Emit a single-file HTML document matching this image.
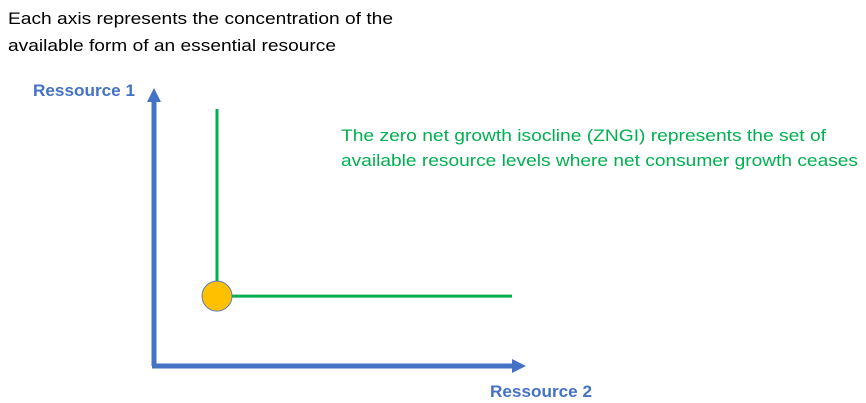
<!DOCTYPE html>
<html><head><meta charset="utf-8"><style>
body{margin:0;width:866px;height:403px;background:#fff;overflow:hidden;font-family:"Liberation Sans",sans-serif}
svg{position:absolute;left:0;top:0}
</style></head><body>
<svg width="866" height="403">
<text x="8" y="24" font-size="17" textLength="385" lengthAdjust="spacingAndGlyphs" fill="#000">Each axis represents the concentration of the</text>
<text x="8" y="51" font-size="17" textLength="328" lengthAdjust="spacingAndGlyphs" fill="#000">available form of an essential resource</text>
<text x="33" y="96" font-size="16.5" font-weight="bold" textLength="102" lengthAdjust="spacingAndGlyphs" fill="#4472C4">Ressource 1</text>
<text x="490" y="397" font-size="16.5" font-weight="bold" textLength="102" lengthAdjust="spacingAndGlyphs" fill="#4472C4">Ressource 2</text>
<text x="341" y="141" font-size="17" textLength="485" lengthAdjust="spacingAndGlyphs" fill="#00B050">The zero net growth isocline (ZNGI) represents the set of</text>
<text x="341" y="166" font-size="17" textLength="517" lengthAdjust="spacingAndGlyphs" fill="#00B050">available resource levels where net consumer growth ceases</text>
<g id="plot"></g>
</svg>
<script>
const rStar1=[0.259];   // R1* (fraction of axis height)
const rStar2=[0.21];    // R2* (fraction of axis width)
const X0=154,Y0=366,W=300,H=270;
const xs=v=>X0+v*W, ys=v=>Y0-v*H;
const NS='http://www.w3.org/2000/svg',g=document.getElementById('plot');
function mk(t,a){const e=document.createElementNS(NS,t);for(const k in a)e.setAttribute(k,a[k]);g.appendChild(e);return e;}
let e;
e=mk('line',{x1:X0,y1:Y0,x2:X0,y2:100,stroke:'#4472C4','stroke-width':5});


e=mk('polygon',{points:`${X0-7},102 ${X0+7},102 ${X0},88`,fill:'#4472C4'});


e=mk('line',{x1:X0-2,y1:Y0,x2:514,y2:Y0,stroke:'#4472C4','stroke-width':5});


e=mk('polygon',{points:`512,${Y0-7} 512,${Y0+7} 526,${Y0}`,fill:'#4472C4'});


const cx=xs(rStar2[0]),cy=ys(rStar1[0]);
e=mk('line',{x1:cx,y1:109,x2:cx,y2:cy,stroke:'#00B050','stroke-width':3});


e=mk('line',{x1:cx,y1:cy,x2:512,y2:cy,stroke:'#00B050','stroke-width':3});


e=mk('circle',{cx:cx,cy:cy,r:15,fill:'#FFC000',stroke:'#5B7DB8','stroke-width':1});


</script>
</body></html>
